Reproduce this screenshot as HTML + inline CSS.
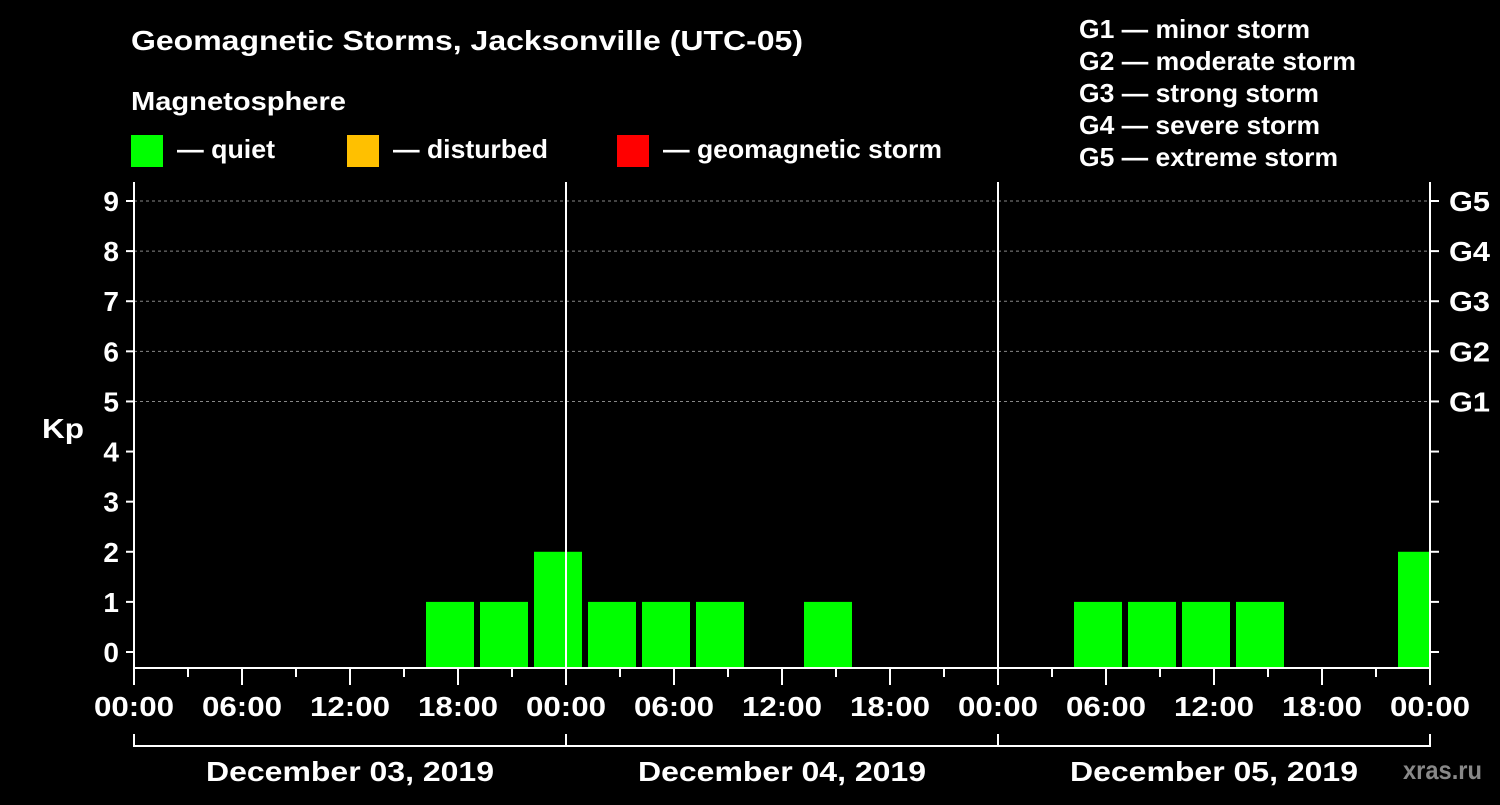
<!DOCTYPE html>
<html><head><meta charset="utf-8"><style>
body{margin:0;background:#000;width:1500px;height:800px;overflow:hidden;font-family:"Liberation Sans",Arial,sans-serif}
svg text{font-family:"Liberation Sans",Arial,sans-serif;font-weight:bold;fill:#fff}
</style></head><body>
<svg id="c" width="1500" height="800">
<text x="131" y="50" font-size="28" textLength="672" lengthAdjust="spacingAndGlyphs">Geomagnetic Storms, Jacksonville (UTC-05)</text>
<text x="131" y="110" font-size="26" textLength="215" lengthAdjust="spacingAndGlyphs">Magnetosphere</text>
<rect x="131" y="135" width="32" height="32" fill="#00ff00"/>
<text x="177" y="158" font-size="26" textLength="98" lengthAdjust="spacingAndGlyphs">— quiet</text>
<rect x="347" y="135" width="32" height="32" fill="#ffc000"/>
<text x="393" y="158" font-size="26" textLength="155" lengthAdjust="spacingAndGlyphs">— disturbed</text>
<rect x="617" y="135" width="32" height="32" fill="#ff0000"/>
<text x="663" y="158" font-size="26" textLength="279" lengthAdjust="spacingAndGlyphs">— geomagnetic storm</text>
<g font-size="26">
<text x="1079" y="38" textLength="231" lengthAdjust="spacingAndGlyphs">G1 — minor storm</text>
<text x="1079" y="70" textLength="277" lengthAdjust="spacingAndGlyphs">G2 — moderate storm</text>
<text x="1079" y="102" textLength="240" lengthAdjust="spacingAndGlyphs">G3 — strong storm</text>
<text x="1079" y="134" textLength="241" lengthAdjust="spacingAndGlyphs">G4 — severe storm</text>
<text x="1079" y="166" textLength="259" lengthAdjust="spacingAndGlyphs">G5 — extreme storm</text>
</g>
<text x="42" y="438" font-size="28" textLength="42" lengthAdjust="spacingAndGlyphs">Kp</text>
<text x="1403" y="779" font-size="26" textLength="79" lengthAdjust="spacingAndGlyphs" style="fill:#888">xras.ru</text>
<g id="plot"></g>
</svg>
<script>
const startHour = 16;
const stepHours = 3;
const kpValues = [1,1,2,1,1,1,0,1,0,0,0,0,1,1,1,1,0,0,2];
const yTicks = [0,1,2,3,4,5,6,7,8,9];
const gLabels = ["G1","G2","G3","G4","G5"];
const dayLabels = ["December 03, 2019","December 04, 2019","December 05, 2019"];
const hourLabels = ["00:00","06:00","12:00","18:00"];

const L=134,R=1430,T=182,B=668;
const x = h => L + h*(R-L)/72;
const y = v => 652 - v*50.11;
const NS="http://www.w3.org/2000/svg";
const g=document.getElementById('plot');
function mk(t,a){const e=document.createElementNS(NS,t);for(const k in a)e.setAttribute(k,a[k]);g.appendChild(e);return e;}

[5,6,7,8,9].forEach(v=>{const e=mk('line',{x1:L,x2:R,y1:y(v),y2:y(v),stroke:'#888','stroke-dasharray':'3,3','stroke-width':1});

});
kpValues.forEach((v,i)=>{if(v<=0)return;const h0=startHour+i*stepHours;const x0=x(h0)+4;let x1=x(h0+stepHours)-2;x1=Math.min(x1,R);
const r=mk('rect',{x:x0,y:y(v),width:x1-x0,height:B-y(v),fill:v>=5?'#ff0000':(v>=4?'#ffc000':'#00ff00')});

});
[1,2].forEach(d=>{const e=mk('line',{x1:x(d*24),x2:x(d*24),y1:T,y2:B,stroke:'#fff','stroke-width':2});

});
const f=mk('path',{d:`M${L},${T} V${B} H${R} V${T}`,stroke:'#fff','stroke-width':2,fill:'none'});


yTicks.forEach(v=>{mk('line',{x1:L-8,x2:L,y1:y(v),y2:y(v),stroke:'#fff','stroke-width':2});mk('line',{x1:R,x2:R+9,y1:y(v),y2:y(v),stroke:'#fff','stroke-width':2});
const t=mk('text',{x:L-15,y:y(v)+10,'font-size':28,'text-anchor':'end'});t.textContent=v;

});
gLabels.forEach((s,i)=>{const t=mk('text',{x:1449,y:y(5+i)+10,'font-size':28,textLength:41,lengthAdjust:'spacingAndGlyphs'});t.textContent=s;

});
for(let h=0;h<=72;h+=3){const major=h%6===0;mk('line',{x1:x(h),x2:x(h),y1:B,y2:B+(major?17:9),stroke:'#fff','stroke-width':2});
if(major){const t=mk('text',{x:x(h),y:716,'font-size':28,'text-anchor':'middle',textLength:80,lengthAdjust:'spacingAndGlyphs'});t.textContent=hourLabels[(h%24)/6];

}}
mk('line',{x1:L,x2:R,y1:746,y2:746,stroke:'#fff','stroke-width':2});
[0,1,2,3].forEach(d=>mk('line',{x1:x(d*24),x2:x(d*24),y1:734,y2:747,stroke:'#fff','stroke-width':2}));
dayLabels.forEach((s,d)=>{const t=mk('text',{x:x(d*24+12),y:781,'font-size':28,'text-anchor':'middle',textLength:288,lengthAdjust:'spacingAndGlyphs'});t.textContent=s;

});
</script>
</body></html>
